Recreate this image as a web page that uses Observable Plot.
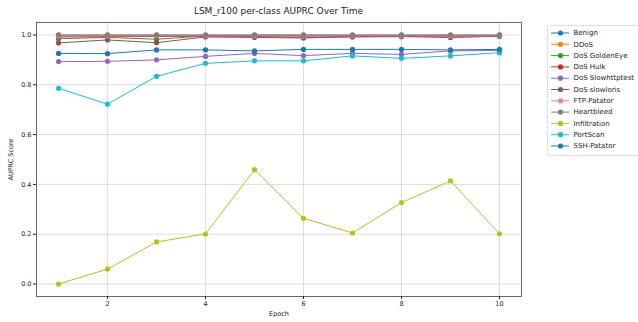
<!DOCTYPE html>
<html>
<head>
<meta charset="utf-8">
<script src="https://cdn.jsdelivr.net/npm/d3@7"></script>
<script src="https://cdn.jsdelivr.net/npm/@observablehq/plot@0.6"></script>
<style>
  body { margin: 0; background: #fff; font-family: "DejaVu Sans", sans-serif; }
  #wrap { position: relative; width: 638px; height: 322px; overflow: hidden; background: #fff; }
  #title { position: absolute; left: 36px; width: 485px; top: 5px; text-align: center; font-size: 9px; line-height: 12px; color: #222; }
  #chart { position: absolute; left: 0; top: 18px; }
  #chart svg, #legend svg { display: block; }
  #legend { position: absolute; left: 547px; top: 25px; width: 100px; height: 129px; border: 1px solid #ddd; border-radius: 2px; background: #fff; }
</style>
</head>
<body>
<div id="wrap">
  <div id="title">LSM_r100 per-class AUPRC Over Time</div>
  <div id="chart"></div>
  <div id="legend"></div>
</div>
<script>
// Per-class AUPRC for each training epoch
const epochs = [1, 2, 3, 4, 5, 6, 7, 8, 9, 10];
const classes = ["Benign", "DDoS", "DoS GoldenEye", "DoS Hulk", "DoS Slowhttptest", "DoS slowloris",
  "FTP-Patator", "Heartbleed", "Infiltration", "PortScan", "SSH-Patator"];
const colors = ["#1f77b4", "#ff7f0e", "#2ca02c", "#d62728", "#9467bd", "#8c564b",
  "#e377c2", "#7f7f7f", "#bcbd22", "#17becf", "#1f77b4"];

const benign         = [0.995, 0.996, 0.996, 0.997, 0.997, 0.997, 0.997, 0.998, 0.997, 0.998];
const ddos           = [0.999, 0.999, 0.999, 0.999, 0.999, 0.999, 0.999, 0.999, 0.999, 0.999];
const goldenEye      = [0.985, 0.990, 0.983, 0.996, 0.997, 0.996, 0.997, 0.997, 0.996, 0.997];
const hulk           = [0.992, 0.993, 0.994, 0.995, 0.994, 0.990, 0.994, 0.995, 0.990, 0.995];
const slowhttptest   = [0.893, 0.894, 0.900, 0.914, 0.926, 0.917, 0.926, 0.922, 0.936, 0.938];
const slowloris      = [0.968, 0.980, 0.969, 0.992, 0.990, 0.988, 0.992, 0.993, 0.992, 0.995];
const ftpPatator     = [0.995, 0.996, 0.996, 0.997, 0.996, 0.995, 0.997, 0.997, 0.995, 0.997];
const heartbleed     = [1.000, 1.000, 1.000, 1.000, 1.000, 1.000, 1.000, 1.000, 1.000, 1.000];
const infiltration   = [0.000, 0.060, 0.169, 0.201, 0.459, 0.264, 0.205, 0.327, 0.414, 0.202];
const portScan       = [0.786, 0.722, 0.834, 0.886, 0.896, 0.896, 0.916, 0.906, 0.916, 0.929];
const sshPatator     = [0.926, 0.925, 0.940, 0.940, 0.936, 0.942, 0.942, 0.942, 0.940, 0.942];

const series = [benign, ddos, goldenEye, hulk, slowhttptest, slowloris,
  ftpPatator, heartbleed, infiltration, portScan, sshPatator];

const xTicks = [2, 4, 6, 8, 10];
const yTicks = [0, 0.2, 0.4, 0.6, 0.8, 1.0];

const rows = classes.flatMap((cls, i) =>
  epochs.map((epoch, j) => ({ cls, idx: i, epoch, value: series[i][j] })));

const tickFont = 6.5;
const legendFont = 7;

// One line + marker pair per class, drawn in class order so later classes sit on top
const seriesMarks = classes.flatMap((cls, i) => {
  const data = rows.filter(d => d.idx === i);
  return [
    Plot.line(data, { x: "epoch", y: "value", stroke: colors[i], strokeWidth: 1 }),
    Plot.dot(data, { x: "epoch", y: "value", fill: colors[i], r: 2.6 })
  ];
});

const chart = Plot.plot({
  width: 638,
  height: 304,
  marginLeft: 36,
  marginRight: 117,
  marginTop: 4,
  marginBottom: 26,
  style: { fontFamily: "DejaVu Sans, sans-serif", fontSize: tickFont + "px", color: "#222", background: "#fff" },
  x: { domain: [0.55, 10.45] },
  y: { domain: [-0.05, 1.05] },
  marks: [
    Plot.gridX(xTicks, { stroke: "#b0b0b0", strokeOpacity: 0.55, strokeWidth: 0.8 }),
    Plot.gridY(yTicks, { stroke: "#b0b0b0", strokeOpacity: 0.55, strokeWidth: 0.8 }),
    ...seriesMarks,
    Plot.frame({ stroke: "#444", strokeWidth: 0.8 }),
    Plot.axisX({ ticks: xTicks, tickSize: 3, tickPadding: 2, fontSize: tickFont, fill: "#222", label: "Epoch", labelAnchor: "center", labelArrow: "none", labelOffset: 19 }),
    Plot.axisY({ ticks: yTicks, tickSize: 3, tickPadding: 2, fontSize: tickFont, fill: "#222", tickFormat: d => d.toFixed(1), label: "AUPRC Score", labelAnchor: "center", labelArrow: "none", labelOffset: 28 })
  ]
});
document.getElementById("chart").appendChild(chart);

// Legend: swatch line + marker + class name, one row per class
const legend = Plot.plot({
  width: 100,
  height: 129,
  margin: 0,
  style: { fontFamily: "DejaVu Sans, sans-serif", fontSize: legendFont + "px", color: "#222", background: "transparent" },
  x: { domain: [0, 100], range: [0, 100], axis: null },
  y: { type: "linear", domain: [0, classes.length - 1], range: [6.5, 119.5], axis: null },
  marks: [
    Plot.ruleY(classes, { y: (d, i) => i, x1: 3, x2: 21, stroke: (d, i) => colors[i], strokeWidth: 1 }),
    Plot.dot(classes, { y: (d, i) => i, x: 12, fill: (d, i) => colors[i], r: 2.6 }),
    Plot.text(classes, { y: (d, i) => i, x: 25, text: d => d, textAnchor: "start", fill: "#222" })
  ]
});
document.getElementById("legend").appendChild(legend);
</script>
</body>
</html>
